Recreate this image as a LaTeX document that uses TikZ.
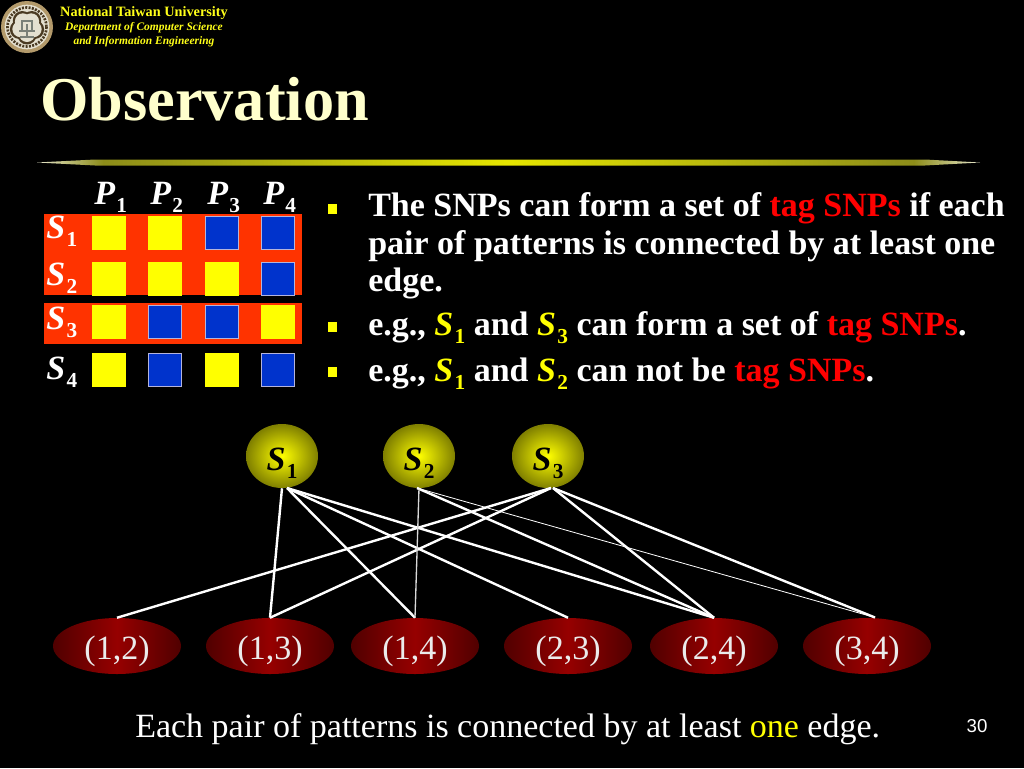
\documentclass[tikz,border=0pt]{standalone}
\usepackage{fontspec}
\setmainfont{Liberation Serif}
\setsansfont{Liberation Sans}
\usetikzlibrary{shapes.geometric}
\definecolor{slidecream}{HTML}{FFFFCC}
\definecolor{rowred}{HTML}{FF3300}
\definecolor{cellblue}{HTML}{0033CC}
\definecolor{celledge}{HTML}{B4B4DC}
\definecolor{hiyellow}{HTML}{FFFF00}
\definecolor{hired}{HTML}{FF0000}
\definecolor{sitedge}{HTML}{7F7F00}
\definecolor{pairdark}{HTML}{500000}
\definecolor{pairred}{HTML}{960000}
\definecolor{logotan}{HTML}{B39A6B}
\definecolor{logodark}{HTML}{4A3A22}
\definecolor{logopale}{HTML}{E4E0D0}
\definecolor{logogrey}{HTML}{7A8078}
\pgfdeclarehorizontalshading{rulefade}{100bp}{
  rgb(0bp)=(0.9,0.9,0.8); rgb(25bp)=(0.9,0.9,0.8); rgb(28.5bp)=(0.55,0.55,0.1);
  rgb(50bp)=(0.9,0.9,0); rgb(71.5bp)=(0.55,0.55,0.1); rgb(75bp)=(0.9,0.9,0.8); rgb(100bp)=(0.9,0.9,0.8)}
\tikzset{
  yelcell/.style={fill=hiyellow, draw=hiyellow, line width=0.4pt, minimum size=24.5pt, inner sep=0pt},
  blucell/.style={fill=cellblue, draw=celledge, line width=0.6pt, minimum size=24.5pt, inner sep=0pt},
  rowlabel/.style={text=white, font=\fontsize{25.5}{25.5}\selectfont\bfseries\itshape, inner sep=0pt, anchor=base west},
  sitenode/.style={ellipse, minimum width=54pt, minimum height=48pt, inner sep=0pt, text height=21pt, text depth=0pt, shade, inner color=hiyellow, outer color=sitedge, text=black, font=\fontsize{25.5}{25.5}\selectfont\bfseries\itshape},
  pairnode/.style={ellipse, minimum width=96pt, minimum height=42pt, inner sep=0pt, text height=19.5pt, text depth=0pt, shade, shading angle=90, left color=pairdark, right color=pairdark, middle color=pairred, text=white!92!black, font=\fontsize{25.5}{25.5}\selectfont},
  edgeline/.style={draw=white, line width=1.8pt},
  vertedge/.style={draw=white!85!black, line width=1pt},
  thinedge/.style={draw=white, line width=0.6pt},
  bullet/.style={fill=hiyellow, minimum width=7pt, minimum height=8pt, inner sep=0pt},
  bodytext/.style={text=white, font=\fontsize{25.5}{25.5}\selectfont\bfseries, inner sep=0pt, anchor=base west},
  headtext/.style={text=hiyellow!90!white, inner sep=0pt},
}
\newcommand{\subnum}[2]{#1\kern0.04em\raisebox{-0.24em}{\fontsize{16}{16}\selectfont\upshape #2}}
\newcommand{\hy}[1]{\textcolor{hiyellow}{#1}}
\newcommand{\hr}[1]{\textcolor{hired}{#1}}
\begin{document}
\begin{tikzpicture}[x=0.75pt, y=-0.75pt]
\useasboundingbox (0,0) rectangle (1024,768);
\fill[black] (0,0) rectangle (1024,768);
% logo
\node[circle, fill=logotan, minimum size=39pt, inner sep=0pt] (logoOuter) at (27,27) {};
\node[circle, fill=logopale, minimum size=33.5pt, inner sep=0pt] (logoRing) at (27,27) {};
\draw[logodark, line width=2pt, dash pattern=on 1.5pt off 1pt] (logoRing.center) circle[radius=19.5];
\foreach \ang in {90,162,234,306,18}{
  \fill[logodark] (27,27) ++(\ang:8) circle[radius=9.5];
}
\foreach \ang in {90,162,234,306,18}{
  \fill[logopale] (27,27) ++(\ang:7) circle[radius=8];
}
\draw[logogrey, line width=1.3pt] (20,37) -- (34,37) (27,24) -- (27,37) (22,31) -- (22,21) -- (32,21) -- (32,31) (19,31) -- (35,31);
% header
\node[headtext, font=\fontsize{10.7}{10.7}\selectfont\bfseries] (uniName) at (144,13) {National Taiwan University};
\node[headtext, font=\fontsize{8.6}{8.6}\selectfont\bfseries\itshape] (deptA) at (144,28) {Department of Computer Science};
\node[headtext, font=\fontsize{8.6}{8.6}\selectfont\bfseries\itshape] (deptB) at (144,42) {and Information Engineering};
\node[text=slidecream, font=\fontsize{46.7}{46.7}\selectfont\bfseries, inner sep=0pt, anchor=base west] (title) at (40,120) {Observation};
% rule under title
\shade[shading=rulefade] (37,162.5) -- (95,159.5) -- (925,159.5) -- (980,162.5) -- (925,165.5) -- (95,165.5) -- cycle;
% rows
\fill[rowred] (44,214) rectangle (302,295);
\fill[rowred] (44,303) rectangle (302,344);
% table
\node[rowlabel] (P1) at (94,204) {\subnum{P}{1}};
\node[rowlabel] (P2) at (150,204) {\subnum{P}{2}};
\node[rowlabel] (P3) at (207,204) {\subnum{P}{3}};
\node[rowlabel] (P4) at (263,204) {\subnum{P}{4}};
\node[rowlabel] (R1) at (46,238) {\subnum{S}{1}};
\node[rowlabel] (R2) at (46,285) {\subnum{S}{2}};
\node[rowlabel] (R3) at (46,329) {\subnum{S}{3}};
\node[rowlabel] (R4) at (46,379) {\subnum{S}{4}};
\foreach \r/\yy/\a/\b/\c/\d in {1/233/yel/yel/blu/blu, 2/279/yel/yel/yel/blu, 3/322/yel/blu/blu/yel, 4/370/yel/blu/yel/blu}{
  \node[\a cell] (C\r1) at (109,\yy) {};
  \node[\b cell] (C\r2) at (165,\yy) {};
  \node[\c cell] (C\r3) at (222,\yy) {};
  \node[\d cell] (C\r4) at (278,\yy) {};
}
% bullets
\node[bullet] (B1) at (332.5,209) {};
\node[bullet] (B2) at (332.5,327) {};
\node[bullet] (B3) at (332.5,372) {};
\node[bodytext] (T1a) at (368,216) {The SNPs can form a set of \hr{tag SNPs} if each};
\node[bodytext] (T1b) at (368,254) {pair of patterns is connected by at least one};
\node[bodytext] (T1c) at (368,291) {edge.};
\node[bodytext] (T2) at (368,335) {e.g., \hy{\subnum{\textit{S}}{1}} and \hy{\subnum{\textit{S}}{3}} can form a set of \hr{tag SNPs}.};
\node[bodytext] (T3) at (368,381) {e.g., \hy{\subnum{\textit{S}}{1}} and \hy{\subnum{\textit{S}}{2}} can not be \hr{tag SNPs}.};
% graph
\node[sitenode] (S1) at (282,456) {\subnum{S}{1}};
\node[sitenode] (S2) at (419,456) {\subnum{S}{2}};
\node[sitenode] (S3) at (548,456) {\subnum{S}{3}};
\node[pairnode] (E12) at (117,646) {(1,2)};
\node[pairnode] (E13) at (270,646) {(1,3)};
\node[pairnode] (E14) at (415,646) {(1,4)};
\node[pairnode] (E23) at (568,646) {(2,3)};
\node[pairnode] (E24) at (714,646) {(2,4)};
\node[pairnode] (E34) at (867,646) {(3,4)};
\coordinate (S1r) at (287,488);
\coordinate (S2l) at (417,488);
\coordinate (S3l) at (551,488);
\coordinate (S3r) at (553,488);
\coordinate (E34r) at (875,617.5);
\draw[edgeline] (S1.south) -- (E13.north);
\foreach \s/\e in {S1r/E14.north, S1r/E23.north, S1r/E24.north, S2l/E24.north, S3l/E12.north, S3l/E13.north, S3r/E24.north, S3r/E34r}{
  \draw[edgeline] (\s) -- (\e);
}
\draw[vertedge] (S2.south) -- (E14.north);
\draw[thinedge] (S2l) -- (E34r);
% footer
\node[text=white, font=\fontsize{25.5}{25.5}\selectfont, inner sep=0pt, anchor=base west] (note) at (135,737) {Each pair of patterns is connected by at least \hy{one} edge.};
\node[text=white, font=\fontsize{14}{14}\selectfont\sffamily, inner sep=0pt] (pageNo) at (977,726) {30};
\end{tikzpicture}
\end{document}
